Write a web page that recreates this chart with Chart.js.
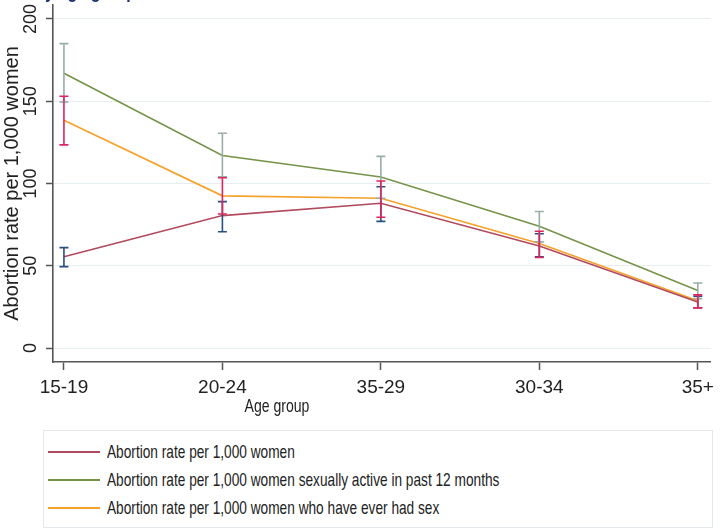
<!DOCTYPE html>
<html>
<head>
<meta charset="utf-8">
<script src="https://cdn.jsdelivr.net/npm/chart.js@4/dist/chart.umd.min.js"></script>
<style>
  html, body { margin: 0; padding: 0; background: #fff; }
  #wrap { position: relative; width: 720px; height: 531px; overflow: hidden; }
  #chart { position: absolute; left: 0; top: 0; }
  #legend {
    position: absolute; left: 43px; top: 430px; width: 670px; height: 98px;
    box-sizing: border-box; border: 1px solid #e2e8ec; padding-top: 7px;
    font-family: 'Liberation Sans', Arial, sans-serif;
    font-size: 19px; color: #222;
  }
  #legend .row { position: relative; height: 28px; line-height: 28px; white-space: nowrap; }
  #legend .swatch { position: absolute; left: 4px; top: 13px; width: 52px; height: 1.6px; }
  #legend .txt {
    position: absolute; left: 63px; top: 0;
    transform: scaleX(0.72); transform-origin: left center;
  }
</style>
</head>
<body>
<div id="wrap">
  <canvas id="chart" width="720" height="425"></canvas>
  <div id="legend"></div>
</div>
<script>
'use strict';

// --- data ---
const categories = ['15-19', '20-24', '35-29', '30-34', '35+'];
const yTicks = [0, 50, 100, 150, 200];

const allWomen     = [55.5, 80.5, 88, 62, 28];
const allWomenLow  = [49.5, 70.7, 77, 55.5, 24.5];
const allWomenHigh = [61, 89, 98, 69.5, 31.5];

const activeWomen     = [167, 117, 104, 74, 35];
const activeWomenLow  = [149.5, 104, 91, 64.5, 30];
const activeWomenHigh = [185, 130.5, 116.5, 83, 39.5];

const everSex     = [138.5, 92.5, 91, 63.5, 28.8];
const everSexLow  = [123.5, 81.5, 79.5, 55, 24.4];
const everSexHigh = [153, 103.5, 101.5, 71, 32.3];

const seriesLabels = [
  'Abortion rate per 1,000 women',
  'Abortion rate per 1,000 women sexually active in past 12 months',
  'Abortion rate per 1,000 women who have ever had sex'
];

const SANS = "'Liberation Sans', Arial, sans-serif";
const AXIS = '#555';

const toPoints = arr => arr.map((v, i) => ({ x: i, y: v }));

const series = [
  { label: seriesLabels[0], values: allWomen, low: allWomenLow, high: allWomenHigh, color: '#b24a5e', barColor: '#2b4e7e' },
  { label: seriesLabels[1], values: activeWomen, low: activeWomenLow, high: activeWomenHigh, color: '#76934a', barColor: '#98aea8' },
  { label: seriesLabels[2], values: everSex, low: everSexLow, high: everSexHigh, color: '#f5a12a', barColor: '#e0245c' }
];

// range capped spikes, drawn through the chart scales
const errorBars = {
  id: 'errorBars',
  afterDatasetsDraw(chart) {
    const { ctx, scales: { x, y } } = chart;
    ctx.save();
    ctx.lineWidth = 1.6;
    series.forEach(s => {
      ctx.strokeStyle = s.barColor;
      s.low.forEach((lo, i) => {
        const px = x.getPixelForValue(i);
        const y1 = y.getPixelForValue(lo);
        const y2 = y.getPixelForValue(s.high[i]);
        ctx.beginPath();
        ctx.moveTo(px, y1); ctx.lineTo(px, y2);
        ctx.moveTo(px - 4.5, y1); ctx.lineTo(px + 4.5, y1);
        ctx.moveTo(px - 4.5, y2); ctx.lineTo(px + 4.5, y2);
        ctx.stroke();
      });
    });
    ctx.restore();
  }
};

// Stata-style vertical y tick labels, x title and the clipped heading
const extraText = {
  id: 'extraText',
  afterDraw(chart) {
    const { ctx, scales: { y } } = chart;
    ctx.save();
    ctx.fillStyle = '#222';
    ctx.font = '18px ' + SANS;
    ctx.textAlign = 'center';
    ctx.textBaseline = 'middle';
    yTicks.forEach(v => {
      ctx.save();
      ctx.translate(31, y.getPixelForValue(v));
      ctx.rotate(-Math.PI / 2);
      ctx.fillText(String(v), 0, 0);
      ctx.restore();
    });

    ctx.save();
    ctx.translate(277, 407);
    ctx.scale(0.74, 1);
    ctx.font = '19px ' + SANS;
    ctx.fillText('Age group', 0, 0);
    ctx.restore();

    ctx.save();
    ctx.translate(136, -2);
    ctx.scale(0.8, 1);
    ctx.fillStyle = '#1d3170';
    ctx.font = 'bold 20px ' + SANS;
    ctx.textAlign = 'right';
    ctx.textBaseline = 'alphabetic';
    ctx.fillText('Figure 2. Abortion rate by age group', 0, 0);
    ctx.restore();
    ctx.restore();
  }
};

const chart = new Chart(document.getElementById('chart'), {
  type: 'line',
  data: {
    datasets: series.map(s => ({
      label: s.label,
      data: toPoints(s.values),
      borderColor: s.color,
      backgroundColor: s.color,
      borderWidth: 1.6,
      pointRadius: 0,
      tension: 0,
      fill: false
    }))
  },
  options: {
    responsive: false,
    animation: false,
    layout: { padding: { top: 5, right: 5, left: 0, bottom: 0 } },
    plugins: { legend: { display: false }, tooltip: { enabled: false } },
    scales: {
      x: {
        type: 'linear',
        min: -0.069,
        max: 4.082,
        afterBuildTicks: s => { s.ticks = categories.map((c, i) => ({ value: i })); },
        afterFit: s => { s.height = 63; },
        ticks: {
          callback: v => categories[v],
          autoSkip: false, maxRotation: 0, minRotation: 0,
          padding: 6, color: '#222',
          font: { family: SANS, size: 19 }
        },
        grid: { drawOnChartArea: false, tickLength: 8, tickColor: AXIS, tickWidth: 1.5 },
        border: { color: AXIS, width: 1.6 }
      },
      y: {
        min: -8.5,
        max: 208.5,
        afterBuildTicks: s => { s.ticks = yTicks.map(v => ({ value: v })); },
        afterFit: s => { s.width = 53; },
        ticks: { display: false },
        grid: { color: '#e7eef2', lineWidth: 1, tickLength: 7, tickColor: AXIS, tickWidth: 1.5 },
        border: { color: AXIS, width: 1.6 },
        title: {
          display: true,
          text: 'Abortion rate per 1,000 women',
          color: '#222',
          font: { family: SANS, size: 20 },
          padding: { top: 0, bottom: 0 }
        }
      }
    }
  },
  plugins: [errorBars, extraText]
});

// legend box under the chart, built from the datasets
const legend = document.getElementById('legend');
chart.data.datasets.forEach(d => {
  const row = document.createElement('div');
  row.className = 'row';
  const sw = document.createElement('span');
  sw.className = 'swatch';
  sw.style.backgroundColor = d.borderColor;
  const txt = document.createElement('span');
  txt.className = 'txt';
  txt.textContent = d.label;
  row.appendChild(sw);
  row.appendChild(txt);
  legend.appendChild(row);
});
</script>
</body>
</html>
